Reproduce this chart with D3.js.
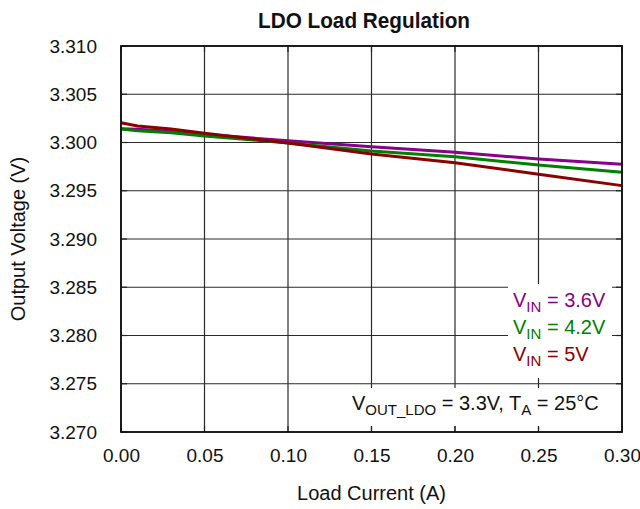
<!DOCTYPE html>
<html>
<head>
<meta charset="utf-8">
<script src="https://cdn.jsdelivr.net/npm/d3@7"></script>
<style>
  html, body { margin: 0; padding: 0; background: #fff; }
  svg { display: block; font-family: "Liberation Sans", Arial, sans-serif; }
</style>
</head>
<body>
<svg id="chart" width="640" height="509"></svg>
<script>
// Load current sweep (A)
const loadCurrent = [0, 0.01, 0.03, 0.05, 0.10, 0.15, 0.20, 0.25, 0.30];
// Output voltage (V) for each input voltage
const vin36 = [3.30143, 3.30137, 3.30116, 3.30085, 3.30018, 3.29957, 3.29898, 3.29830, 3.29775];
const vin42 = [3.30140, 3.30122, 3.30102, 3.30067, 3.29996, 3.29912, 3.29853, 3.29767, 3.29692];
const vin50 = [3.30205, 3.30170, 3.30140, 3.30095, 3.29995, 3.29881, 3.29791, 3.29670, 3.29553];

const xTicks = [0, 0.05, 0.10, 0.15, 0.20, 0.25, 0.30];
const yTicks = [3.270, 3.275, 3.280, 3.285, 3.290, 3.295, 3.300, 3.305, 3.310];

const seriesNames = ["3.6V", "4.2V", "5V"];
const seriesValues = [vin36, vin42, vin50];
const seriesColors = ["#8B008B", "#008000", "#8B0000"];

const svg = d3.select("#chart");
const margin = { left: 121, right: 18, top: 46, bottom: 77 };
const W = 640, H = 509;

const x = d3.scaleLinear().domain([0, 0.30]).range([margin.left, W - margin.right]);
const y = d3.scaleLinear().domain([3.270, 3.310]).range([H - margin.bottom, margin.top]);

// Grid lines
const grid = svg.append("g");
grid.selectAll("line.vx").data(xTicks).join("line")
  .attr("x1", d => x(d)).attr("x2", d => x(d))
  .attr("y1", y(3.310)).attr("y2", y(3.270))
  .attr("stroke", "#2a2a2a").attr("stroke-width", 1.2);
grid.selectAll("line.hy").data(yTicks).join("line")
  .attr("x1", x(0)).attr("x2", x(0.30))
  .attr("y1", d => y(d)).attr("y2", d => y(d))
  .attr("stroke", "#2a2a2a").attr("stroke-width", 1.2);

// Data lines
const line = d3.line().x((d, i) => x(loadCurrent[i])).y(d => y(d));
svg.append("g").selectAll("path").data(seriesValues).join("path")
  .attr("d", d => line(d))
  .attr("fill", "none")
  .attr("stroke", (d, i) => seriesColors[i])
  .attr("stroke-width", 3)
  .attr("stroke-linejoin", "round");

// Legend and condition boxes (white backgrounds over the grid)
svg.append("rect").attr("x", 508).attr("y", 284).attr("width", 104).attr("height", 94).attr("fill", "#fff");
svg.append("rect").attr("x", 343).attr("y", 388).attr("width", 275).attr("height", 38).attr("fill", "#fff");

// Inward tick marks
const ticks = svg.append("g").attr("stroke", "#222").attr("stroke-width", 1.2);
ticks.selectAll("line.bt").data(xTicks).join("line")
  .attr("x1", d => x(d)).attr("x2", d => x(d))
  .attr("y1", y(3.270)).attr("y2", y(3.270) - 6);
ticks.selectAll("line.tt").data(xTicks).join("line")
  .attr("x1", d => x(d)).attr("x2", d => x(d))
  .attr("y1", y(3.310)).attr("y2", y(3.310) + 6);
ticks.selectAll("line.lt").data(yTicks).join("line")
  .attr("x1", x(0)).attr("x2", x(0) + 6)
  .attr("y1", d => y(d)).attr("y2", d => y(d));
ticks.selectAll("line.rt").data(yTicks).join("line")
  .attr("x1", x(0.30)).attr("x2", x(0.30) - 6)
  .attr("y1", d => y(d)).attr("y2", d => y(d));

// Plot frame
svg.append("rect")
  .attr("x", x(0)).attr("y", y(3.310))
  .attr("width", x(0.30) - x(0)).attr("height", y(3.270) - y(3.310))
  .attr("fill", "none").attr("stroke", "#111").attr("stroke-width", 1.8);

// Axes (labels only; the frame and grid draw the lines)
const xAxis = svg.append("g").attr("transform", `translate(0,${y(3.270)})`)
  .call(d3.axisBottom(x).tickValues(xTicks).tickFormat(d3.format(".2f")).tickSize(0).tickPadding(17));
const yAxis = svg.append("g").attr("transform", `translate(${x(0)},0)`)
  .call(d3.axisLeft(y).tickValues(yTicks).tickFormat(d3.format(".3f")).tickSize(0).tickPadding(24));
[xAxis, yAxis].forEach(a => {
  a.select(".domain").remove();
  a.selectAll("text").attr("font-size", 19).attr("fill", "#111")
    .attr("font-family", "Liberation Sans, Arial, sans-serif");
});

// Title and axis titles
svg.append("text").attr("x", 364).attr("y", 28).attr("text-anchor", "middle")
  .attr("font-size", 22).attr("font-weight", "bold").attr("fill", "#111")
  .attr("textLength", 212).attr("lengthAdjust", "spacingAndGlyphs")
  .text("LDO Load Regulation");
svg.append("text").attr("x", x(0.15)).attr("y", 500).attr("text-anchor", "middle")
  .attr("font-size", 20).attr("fill", "#111").text("Load Current (A)");
svg.append("text").attr("transform", `translate(25,${y(3.290)}) rotate(-90)`)
  .attr("text-anchor", "middle").attr("font-size", 20).attr("fill", "#111")
  .text("Output Voltage (V)");

// Legend
const legendY = [307, 334, 361];
seriesNames.forEach((name, i) => {
  const t = svg.append("text").attr("x", 513).attr("y", legendY[i])
    .attr("font-size", 20).attr("fill", seriesColors[i]);
  t.append("tspan").text("V");
  t.append("tspan").attr("font-size", 15).attr("dy", 5).text("IN");
  t.append("tspan").attr("dy", -5).text(" = " + name);
});

// Operating conditions
const cond = svg.append("text").attr("x", 352).attr("y", 410).attr("font-size", 20).attr("fill", "#111");
cond.append("tspan").text("V");
cond.append("tspan").attr("font-size", 15).attr("dy", 5).text("OUT_LDO");
cond.append("tspan").attr("dy", -5).text(" = 3.3V, T");
cond.append("tspan").attr("font-size", 15).attr("dy", 5).text("A");
cond.append("tspan").attr("dy", -5).text(" = 25\u00B0C");
</script>
</body>
</html>
